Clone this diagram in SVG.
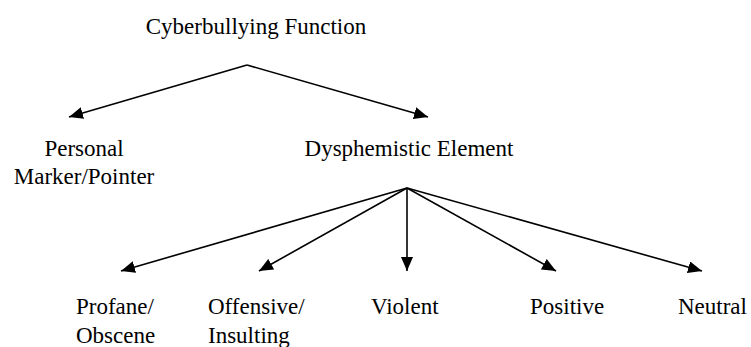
<svg xmlns="http://www.w3.org/2000/svg" width="751" height="347" viewBox="0 0 751 347">
<style>
text{font-family:"Liberation Serif","Times New Roman",serif;font-size:23px;fill:#000}
.c{text-anchor:middle}
.e{stroke:#000;stroke-width:1.6;fill:none;marker-end:url(#ah)}
</style>
<defs>
<marker id="ah" markerUnits="userSpaceOnUse" viewBox="0 0 14 12" refX="14" refY="6" markerWidth="14" markerHeight="12" orient="auto">
<path d="M0,0 L14,6 L0,12 Z" fill="#000"/>
</marker>
</defs>
<g id="n-root"><text class="c" x="256" y="34">Cyberbullying Function</text></g>
<g id="n-personal"><text class="c" x="84" y="156">Personal</text><text class="c" x="84" y="184">Marker/Pointer</text></g>
<g id="n-dysph"><text class="c" x="409" y="156">Dysphemistic Element</text></g>
<g id="n-profane"><text x="76" y="314">Profane/</text><text x="76" y="343">Obscene</text></g>
<g id="n-offensive"><text x="208" y="314">Offensive/</text><text x="208" y="343">Insulting</text></g>
<g id="n-violent"><text x="371" y="314">Violent</text></g>
<g id="n-positive"><text x="530" y="314">Positive</text></g>
<g id="n-neutral"><text x="678" y="314">Neutral</text></g>
<g id="connectors">
<line class="e" x1="247" y1="65" x2="69" y2="117"/>
<line class="e" x1="247" y1="65" x2="428" y2="117"/>
<line class="e" x1="407" y1="188" x2="121" y2="271"/>
<line class="e" x1="407" y1="188" x2="259" y2="271"/>
<line class="e" x1="407" y1="188" x2="407" y2="271"/>
<line class="e" x1="407" y1="188" x2="556" y2="271"/>
<line class="e" x1="407" y1="188" x2="702" y2="271"/>
</g>
</svg>
